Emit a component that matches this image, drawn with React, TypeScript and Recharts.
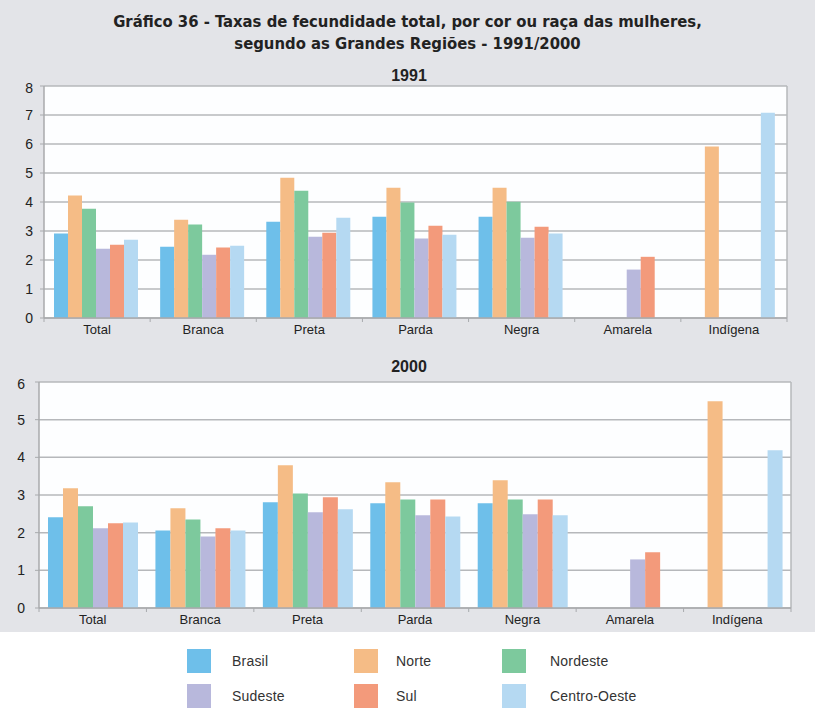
import React from "react";
import { BarChart, Bar, XAxis, YAxis, CartesianGrid } from "recharts";

// categorias (cor ou raça)
const categorias = ["Total", "Branca", "Preta", "Parda", "Negra", "Amarela", "Indígena"];

// regiões e cores
const regioes = ["Brasil", "Norte", "Nordeste", "Sudeste", "Sul", "Centro-Oeste"];
const cores = ["#6ebfea", "#f5bc86", "#7dc99d", "#b8b8dc", "#f39a7b", "#b5d9f2"];

// 1991
const brasil1991 = [2.91, 2.46, 3.32, 3.49, 3.49, null, null];
const norte1991 = [4.22, 3.39, 4.84, 4.49, 4.49, null, 5.91];
const nordeste1991 = [3.77, 3.22, 4.39, 3.98, 4.01, null, null];
const sudeste1991 = [2.39, 2.18, 2.8, 2.74, 2.77, 1.67, null];
const sul1991 = [2.53, 2.43, 2.94, 3.18, 3.15, 2.11, null];
const centroOeste1991 = [2.7, 2.49, 3.46, 2.87, 2.91, null, 7.08];

// 2000
const brasil2000 = [2.41, 2.06, 2.81, 2.78, 2.78, null, null];
const norte2000 = [3.18, 2.65, 3.79, 3.34, 3.39, null, 5.49];
const nordeste2000 = [2.7, 2.35, 3.04, 2.88, 2.88, null, null];
const sudeste2000 = [2.12, 1.9, 2.54, 2.46, 2.49, 1.29, null];
const sul2000 = [2.25, 2.12, 2.94, 2.88, 2.88, 1.48, null];
const centroOeste2000 = [2.27, 2.06, 2.62, 2.43, 2.46, null, 4.19];

const ticks1991 = [0, 1, 2, 3, 4, 5, 6, 7, 8];
const ticks2000 = [0, 1, 2, 3, 4, 5, 6];

const montar = (series: (number | null)[][]) =>
  categorias.map((c, i) => {
    const row: any = { categoria: c };
    regioes.forEach((r, j) => {
      row[r] = series[j][i];
    });
    return row;
  });

const dados1991 = montar([brasil1991, norte1991, nordeste1991, sudeste1991, sul1991, centroOeste1991]);
const dados2000 = montar([brasil2000, norte2000, nordeste2000, sudeste2000, sul2000, centroOeste2000]);

const FONT = "'Liberation Sans', Arial, sans-serif";
const GRID = "#b6b8bb";
const AXIS = "#a8aaad";

const makeTick = (tickSize: number, tickMargin: number) => (props: any) => {
  const { x, y, payload, index, width, visibleTicksCount } = props;
  const axisY = y - tickSize - tickMargin;
  const band = width && visibleTicksCount ? width / visibleTicksCount : 0;
  return (
    <g>
      <line x1={x - band / 2} x2={x - band / 2} y1={axisY} y2={axisY + 4} stroke={AXIS} />
      {index === visibleTicksCount - 1 && (
        <line x1={x + band / 2} x2={x + band / 2} y1={axisY} y2={axisY + 4} stroke={AXIS} />
      )}
      <text x={x} y={y} dy="0.71em" textAnchor="middle" fontSize={13} fill="#222" fontFamily={FONT}>
        {payload.value}
      </text>
    </g>
  );
};

interface PainelProps {
  data: any[];
  ticks: number[];
  width: number;
  height: number;
  yWidth: number;
  right: number;
  gap: number;
  tickMargin: number;
  xHeight: number;
}

const Painel = ({ data, ticks, width, height, yWidth, right, gap, tickMargin, xHeight }: PainelProps) => (
  <BarChart
    width={width}
    height={height}
    data={data}
    margin={{ top: 6, right, bottom: 0, left: 0 }}
    barCategoryGap={gap}
    barGap={0}
  >
    <CartesianGrid
      stroke={GRID}
      strokeWidth={1.5}
      fill="#fdfeff"
      verticalCoordinatesGenerator={({ offset }: any) => [offset.left + offset.width]}
    />
    <XAxis
      dataKey="categoria"
      axisLine={{ stroke: AXIS, strokeWidth: 1.5 }}
      tickLine={false}
      tickSize={3}
      tickMargin={4}
      height={xHeight}
      interval={0}
      tick={makeTick(3, 4)}
    />
    <YAxis
      domain={[0, ticks[ticks.length - 1]]}
      ticks={ticks}
      width={yWidth}
      axisLine={{ stroke: AXIS, strokeWidth: 1.5 }}
      tickLine={{ stroke: AXIS }}
      tickSize={4}
      tickMargin={tickMargin}
      tick={{ fontSize: 14, fill: "#222", fontFamily: FONT }}
    />
    {regioes.map((r, i) => (
      <Bar key={r} dataKey={r} fill={cores[i]} isAnimationActive={false} />
    ))}
  </BarChart>
);

export default function App() {
  return (
    <div
      style={{
        position: "absolute",
        left: 0,
        top: 0,
        width: 815,
        height: 711,
        background: "#fff",
        fontFamily: FONT,
        overflow: "hidden",
      }}
    >
      <div style={{ position: "absolute", left: 0, top: 0, width: 815, height: 632, background: "#e3e4e8" }} />
      <div
        style={{
          position: "absolute",
          left: 0,
          top: 11,
          width: 815,
          textAlign: "center",
          fontFamily: "'Liberation Sans Narrow', 'DejaVu Sans Condensed', Arial, sans-serif",
          fontWeight: "bold",
          fontSize: 16.5,
          lineHeight: "22px",
          color: "#222",
        }}
      >
        Gráfico 36 - Taxas de fecundidade total, por cor ou raça das mulheres,
        <br />
        segundo as Grandes Regiões - 1991/2000
      </div>
      <div
        style={{ position: "absolute", left: 0, top: 67, width: 818, textAlign: "center", fontWeight: "bold", fontSize: 16, color: "#222" }}
      >
        1991
      </div>
      <div
        style={{ position: "absolute", left: 0, top: 358, width: 818, textAlign: "center", fontWeight: "bold", fontSize: 16, color: "#222" }}
      >
        2000
      </div>
      <div style={{ position: "absolute", left: 0, top: 80 }}>
        <Painel data={dados1991} ticks={ticks1991} width={815} height={268} yWidth={44} right={28} gap={10} tickMargin={7} xHeight={30} />
      </div>
      <div style={{ position: "absolute", left: 0, top: 376 }}>
        <Painel data={dados2000} ticks={ticks2000} width={815} height={256} yWidth={39} right={24} gap={9} tickMargin={10} xHeight={24} />
      </div>
      {regioes.map((r, i) => {
        const col = i % 3;
        const row = Math.floor(i / 3);
        const sx = [187, 354, 502][col];
        const tx = [232, 396, 550][col];
        const sy = 649 + row * 35;
        return (
          <React.Fragment key={r}>
            <div style={{ position: "absolute", left: sx, top: sy, width: 24, height: 24, background: cores[i] }} />
            <div style={{ position: "absolute", left: tx, top: sy + 3, fontSize: 14, lineHeight: "18px", color: "#333", letterSpacing: 0.2 }}>
              {r}
            </div>
          </React.Fragment>
        );
      })}
    </div>
  );
}
